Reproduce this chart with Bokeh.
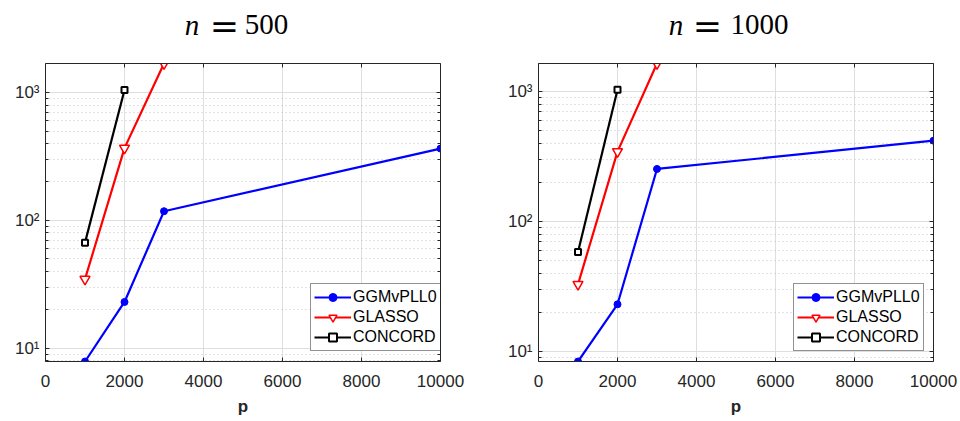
from bokeh.plotting import figure
from bokeh.layouts import row, column
from bokeh.models import (Range1d, FixedTicker, LinearAxis, LogAxis,
                          CustomJSTickFormatter, Legend, LegendItem)
from bokeh.core.properties import value
from bokeh.embed import file_html
from bokeh.resources import INLINE

# problem dimension p
p_ggm = [1000, 2000, 3000, 10000]
p_glasso = [1000, 2000, 3000]
p_concord = [1000, 2000]

# run times, n = 500
ggm_n500 = [7.87, 23.0, 118, 365]
glasso_n500 = [34.7, 368, 1690]
concord_n500 = [67, 1050]

# run times, n = 1000
ggm_n1000 = [8.44, 23.2, 254, 419]
glasso_n1000 = [33, 345, 1639]
concord_n1000 = [58.5, 1031]

n_values = ["500", "1000"]
series_names = ["GGMvPLL0", "GLASSO", "CONCORD"]
x_ticks = [0, 2000, 4000, 6000, 8000, 10000]
y_major = [10, 100, 1000]
y_minor = [m * d for d in (1, 10, 100, 1000) for m in range(2, 10)]

INK = "#262626"
SANS = "Liberation Sans"
SERIF = "Liberation Serif"
HEADER_H = 53
FRAME_W = 395

sup_js = """
const sup = {"0":"\\u2070","1":"\\u00b9","2":"\\u00b2","3":"\\u00b3","4":"\\u2074",
             "5":"\\u2075","6":"\\u2076","7":"\\u2077","8":"\\u2078","9":"\\u2079"};
const e = Math.round(Math.log10(tick));
return "10" + String(e).split("").map(c => sup[c]).join("");
"""
blank_js = "return '';"


def style_axis(ax, labels=True):
    ax.axis_line_color = INK
    ax.axis_line_width = 1
    ax.major_tick_line_color = INK
    ax.minor_tick_line_color = INK
    ax.major_tick_in = 4
    ax.major_tick_out = 0
    ax.minor_tick_in = 3
    ax.minor_tick_out = 0
    ax.major_label_text_font = SANS
    ax.major_label_text_font_size = "17px"
    ax.major_label_text_color = INK
    if not labels:
        ax.formatter = CustomJSTickFormatter(code=blank_js)
        ax.major_label_standoff = 0


def header(n_text, xs, b_left):
    """Strip above a panel carrying its 'n = ...' heading.

    Its frame lines up with the panel frame below, so the x range is set in
    column pixels (frame spans b_left .. b_left + FRAME_W)."""
    h = figure(width=480, height=HEADER_H,
               x_range=Range1d(b_left, b_left + FRAME_W),
               y_range=Range1d(0, HEADER_H), output_backend="svg",
               toolbar_location=None, x_axis_type=None, y_axis_type=None,
               min_border=0)
    h.outline_line_color = None
    h.grid.visible = False
    base = HEADER_H - 24
    h.text(x=[xs[0]], y=[base], text=["n"], text_font=value(SERIF),
           text_font_size="29px", text_font_style="italic",
           text_align="center", text_baseline="alphabetic", text_color="black")
    h.text(x=[xs[1]], y=[base - 1], text=["="], text_font=value("DejaVu Serif"),
           text_font_size="35px", text_align="center",
           text_baseline="alphabetic", text_color="black")
    h.text(x=[xs[2]], y=[base], text=[n_text], text_font=value(SERIF),
           text_font_size="29px", text_align="center",
           text_baseline="alphabetic", text_color="black")
    return h


def panel(ggm, glasso, concord, b_left, b_right, legend_x):
    lo = min(ggm + glasso + concord)
    hi = max(ggm + glasso + concord)
    fig = figure(frame_width=FRAME_W, frame_height=298,
                 x_range=Range1d(0, 10000), y_range=Range1d(lo, hi),
                 y_axis_type="log", output_backend="svg", toolbar_location=None,
                 min_border_left=b_left, min_border_right=b_right,
                 min_border_top=63 - HEADER_H, min_border_bottom=60)
    fig.outline_line_color = None
    fig.background_fill_color = "white"

    xt = FixedTicker(ticks=x_ticks)
    yt = FixedTicker(ticks=y_major, minor_ticks=y_minor)

    xa = fig.xaxis[0]
    xa.ticker = xt
    style_axis(xa)
    xa.minor_tick_line_color = None
    xa.major_label_standoff = 13
    xa.axis_label = "p"
    xa.axis_label_text_font = SANS
    xa.axis_label_text_font_style = "bold"
    xa.axis_label_text_font_size = "17px"
    xa.axis_label_text_color = INK
    xa.axis_label_standoff = 7

    ya = fig.yaxis[0]
    ya.ticker = yt
    ya.formatter = CustomJSTickFormatter(code=sup_js)
    style_axis(ya)
    ya.major_label_standoff = 6

    top = LinearAxis(ticker=xt)
    style_axis(top, labels=False)
    top.minor_tick_line_color = None
    fig.add_layout(top, "above")
    right = LogAxis(ticker=yt)
    style_axis(right, labels=False)
    fig.add_layout(right, "right")

    fig.xgrid.ticker = xt
    fig.xgrid.grid_line_color = "#dedede"
    fig.ygrid.ticker = yt
    fig.ygrid.grid_line_color = "#dedede"
    fig.ygrid.minor_grid_line_color = "#c4c4c4"
    fig.ygrid.minor_grid_line_dash = "1 3"

    l1 = fig.line(p_ggm, ggm, line_color="#0000ff", line_width=2.2)
    s1 = fig.scatter(p_ggm, ggm, marker="circle", size=7,
                     fill_color="#0000ff", line_color="#0000ff")
    l2 = fig.line(p_glasso, glasso, line_color="#ff0000", line_width=2.2)
    s2 = fig.scatter(p_glasso, glasso, marker="inverted_triangle", size=10,
                     fill_color="white", line_color="#ff0000", line_width=1.5)
    l3 = fig.line(p_concord, concord, line_color="black", line_width=2.2)
    s3 = fig.scatter(p_concord, concord, marker="square", size=6,
                     fill_color="white", line_color="black", line_width=2)

    legend = Legend(items=[LegendItem(label=series_names[0], renderers=[l1, s1]),
                           LegendItem(label=series_names[1], renderers=[l2, s2]),
                           LegendItem(label=series_names[2], renderers=[l3, s3])],
                    location=(legend_x, 10),
                    label_text_font=SANS, label_text_font_size="16px",
                    label_text_color="black",
                    glyph_width=37, glyph_height=20, label_height=20,
                    label_standoff=2, padding=3, spacing=0, margin=0,
                    border_line_color=INK, border_line_width=1,
                    background_fill_color="white", background_fill_alpha=1)
    fig.add_layout(legend)
    return fig


left = column(header(n_values[0], (191.5, 224, 266), b_left=45),
              panel(ggm_n500, glasso_n500, concord_n500,
                    b_left=45, b_right=40, legend_x=265),
              spacing=0)
right = column(header(n_values[1], (195.5, 227, 279), b_left=58),
               panel(ggm_n1000, glasso_n1000, concord_n1000,
                     b_left=58, b_right=27, legend_x=255),
               spacing=0)

layout = row(left, right, spacing=0)
open("out.html", "w").write(file_html(layout, INLINE))
